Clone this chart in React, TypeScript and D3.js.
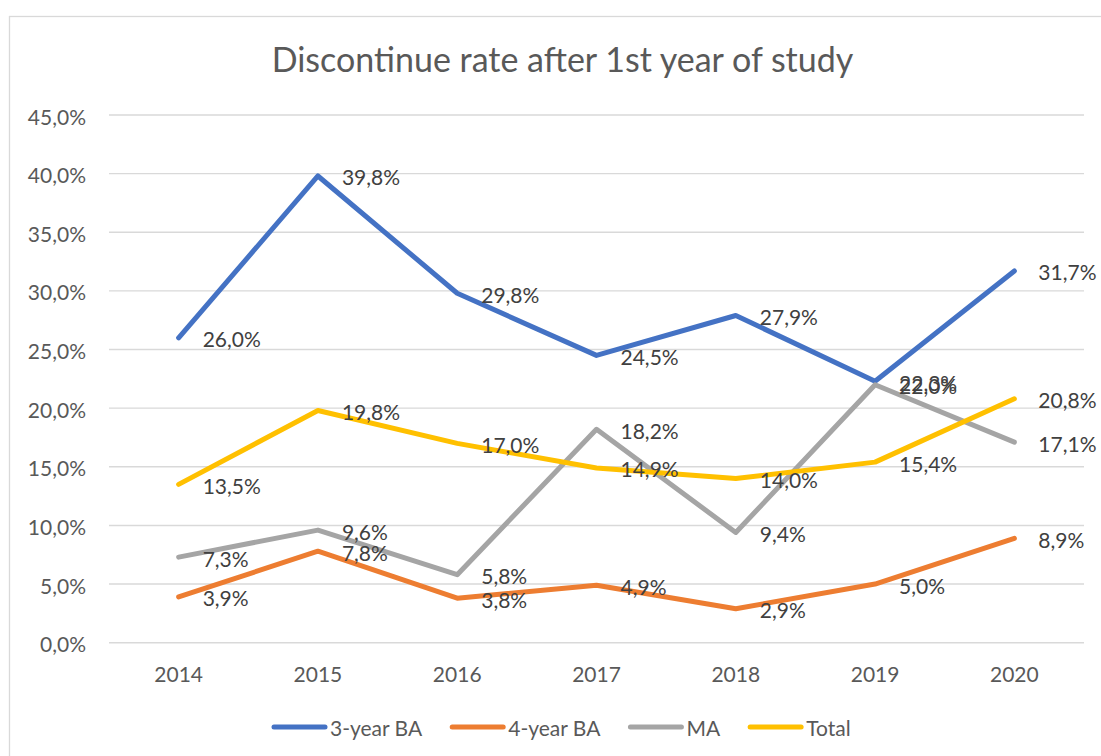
import React from "react";
import * as d3 from "d3";

const years = ["2014", "2015", "2016", "2017", "2018", "2019", "2020"];
const baThree = [26.0, 39.8, 29.8, 24.5, 27.9, 22.3, 31.7];
const baFour = [3.9, 7.8, 3.8, 4.9, 2.9, 5.0, 8.9];
const ma = [7.3, 9.6, 5.8, 18.2, 9.4, 22.0, 17.1];
const total = [13.5, 19.8, 17.0, 14.9, 14.0, 15.4, 20.8];
const seriesNames = ["3-year BA", "4-year BA", "MA", "Total"];
const seriesColors = ["#4472c4", "#ed7d31", "#a5a5a5", "#ffc000"];
const yTicks = [0, 5, 10, 15, 20, 25, 30, 35, 40, 45];

const fmt = (v: number) => v.toFixed(1).replace(".", ",") + "%";

export default function App() {
  const ref = React.useRef<SVGSVGElement>(null);
  const width = 1101;
  const height = 756;

  React.useEffect(() => {
    const svg = d3.select(ref.current);
    svg.selectAll("*").remove();

    const font = "Lato, 'Open Sans', sans-serif";
    const x = d3.scaleBand(years, [109, 1084]);
    const y = d3.scaleLinear([0, 45], [642.7, 115]);
    const cx = (i: number) => (x(years[i]) as number) + x.bandwidth() / 2;

    // chart frame
    svg.append("rect")
      .attr("x", 9.5).attr("y", 16.5)
      .attr("width", 1200).attr("height", 1000)
      .attr("fill", "#fff").attr("stroke", "#d9d9d9").attr("stroke-width", 1.3);

    svg.append("text")
      .attr("x", 562.5).attr("y", 72)
      .attr("text-anchor", "middle")
      .attr("font-family", font).attr("font-size", 34)
      .attr("fill", "#595959")
      .text("Discontinue rate after 1st year of study");

    // grid + y labels
    const grid = svg.append("g");
    grid.selectAll("line").data(yTicks).join("line")
      .attr("x1", 109).attr("x2", 1084)
      .attr("y1", d => y(d)).attr("y2", d => y(d))
      .attr("stroke", "#d9d9d9").attr("stroke-width", 1.4);
    grid.selectAll("text").data(yTicks).join("text")
      .attr("x", 86).attr("y", d => y(d) + 1)
      .attr("text-anchor", "end").attr("dominant-baseline", "central")
      .attr("font-family", font).attr("font-size", 21).attr("fill", "#595959")
      .text(d => fmt(d));

    svg.append("g").selectAll("text").data(years).join("text")
      .attr("x", (d, i) => cx(i)).attr("y", 673)
      .attr("text-anchor", "middle").attr("dominant-baseline", "central")
      .attr("font-family", font).attr("font-size", 21).attr("fill", "#595959")
      .text(d => d);

    const all = [baThree, baFour, ma, total];
    const line = d3.line<number>().x((d, i) => cx(i)).y(d => y(d));

    all.forEach((s, k) => {
      svg.append("path")
        .attr("d", line(s))
        .attr("fill", "none")
        .attr("stroke", seriesColors[k])
        .attr("stroke-width", 5)
        .attr("stroke-linecap", "round")
        .attr("stroke-linejoin", "round");
    });

    all.forEach((s) => {
      svg.append("g").selectAll("text").data(s).join("text")
        .attr("x", (d, i) => cx(i) + 24).attr("y", d => y(d) + 1)
        .attr("dominant-baseline", "central")
        .attr("font-family", font).attr("font-size", 21).attr("fill", "#404040")
        .text(d => fmt(d));
    });

    // legend
    const legend = svg.append("g").attr("transform", "translate(272,727)");
    let off = 0;
    seriesNames.forEach((name, k) => {
      const g = legend.append("g").attr("transform", `translate(${off},0)`);
      g.append("line")
        .attr("x1", 2).attr("x2", 53)
        .attr("stroke", seriesColors[k]).attr("stroke-width", 5)
        .attr("stroke-linecap", "round");
      const t = g.append("text")
        .attr("x", 58).attr("dominant-baseline", "central")
        .attr("font-family", font).attr("font-size", 21).attr("fill", "#595959")
        .text(name);
      const w = (t.node() as SVGTextElement).getComputedTextLength();
      off += 58 + w + 28;
    });
  }, []);

  return (
    <svg ref={ref} width={width} height={height}
      style={{ position: "fixed", left: 0, top: 0, background: "#fff" }} />
  );
}
